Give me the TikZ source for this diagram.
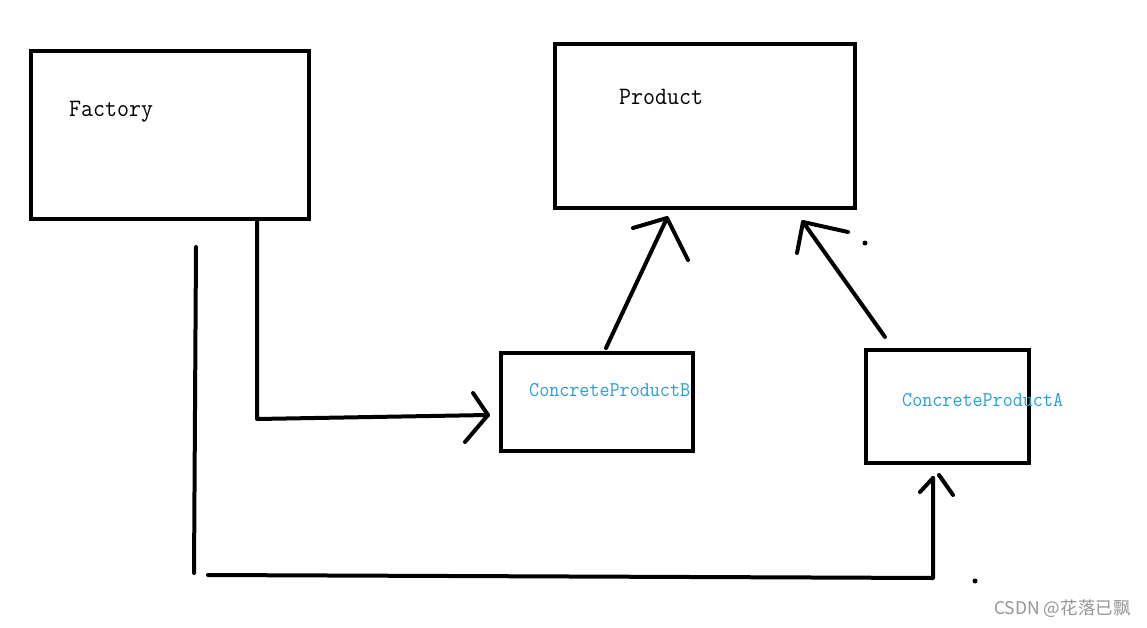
\documentclass[tikz,border=0pt]{standalone}
\usepackage{fontspec}
\newfontfamily\monofont[FakeStretch=0.93]{Latin Modern Mono}
\newfontfamily\cjk{Noto Sans CJK SC}
\definecolor{cpblue}{RGB}{40,158,210}
\definecolor{wmgray}{RGB}{150,150,150}
\begin{document}
\begin{tikzpicture}[x=1pt,y=-1pt,
  box/.style={draw=black,line width=4pt,inner sep=0pt},
  conn/.style={draw=black,line width=4pt,line cap=round,line join=round},
  bigtxt/.style={font=\monofont\fontsize{25}{25}\selectfont,anchor=base west,inner sep=0pt},
  smalltxt/.style={font=\monofont\fontsize{21}{21}\selectfont,text=cpblue,anchor=base west,inner sep=0pt}]
\useasboundingbox (0,0) rectangle (1147,628);
\fill[white] (0,0) rectangle (1147,628);
% boxes
\node[box,minimum width=278pt,minimum height=168pt] (fac) at (170,135) {};
\node[box,minimum width=300pt,minimum height=164pt] (prod) at (705,126) {};
\node[box,minimum width=192pt,minimum height=98pt] (cpb) at (597,402) {};
\node[box,minimum width=163pt,minimum height=113pt] (cpa) at (947.5,406.5) {};
% labels
\node[bigtxt] (facl) at (69,117) {Factory};
\node[bigtxt] (prodl) at (619,105) {Product};
\node[smalltxt] (cpbl) at (529,396) {ConcreteProductB};
\node[smalltxt] (cpal) at (902,406) {ConcreteProductA};
% coordinates
\coordinate (f1) at (257,219);
\coordinate (f2) at (257,419);
\coordinate (f3) at (488,415);
\coordinate (fa1) at (473,393);
\coordinate (fa2) at (465,442);
\coordinate (v1) at (196,247);
\coordinate (v2) at (194,573);
\coordinate (h1) at (208,575);
\coordinate (h2) at (933,578);
\coordinate (h3) at (933,478);
\coordinate (ha1) at (920,492);
\coordinate (ha2) at (939,475);
\coordinate (ha3) at (953,495);
\coordinate (b1) at (606,348);
\coordinate (b2) at (667,218);
\coordinate (ba1) at (633,228);
\coordinate (ba2) at (688,260);
\coordinate (a1) at (885,337);
\coordinate (a2) at (803,222);
\coordinate (aa1) at (797,253);
\coordinate (aa2) at (848,232);
% connectors
\draw[conn] (f1) -- (f2) -- (f3);
\draw[conn] (fa1) -- (f3) -- (fa2);
\draw[conn] (v1) -- (v2);
\draw[conn] (h1) -- (h2) -- (h3);
\draw[conn] (ha1) -- (h3);
\draw[conn] (ha2) -- (ha3);
\draw[conn] (b1) -- (b2);
\draw[conn] (ba1) -- (b2) -- (ba2);
\draw[conn] (a1) -- (a2);
\draw[conn] (aa1) -- (a2) -- (aa2);
% dots
\fill[black] (865,243) circle (2.5);
\fill[black] (975,581) circle (2.5);
% watermark
\node[font=\cjk\fontsize{17.5}{17.5}\selectfont,text=wmgray,anchor=west,inner sep=0pt] (wm) at (994,609) {CSDN @花落已飘};
\end{tikzpicture}
\end{document}
